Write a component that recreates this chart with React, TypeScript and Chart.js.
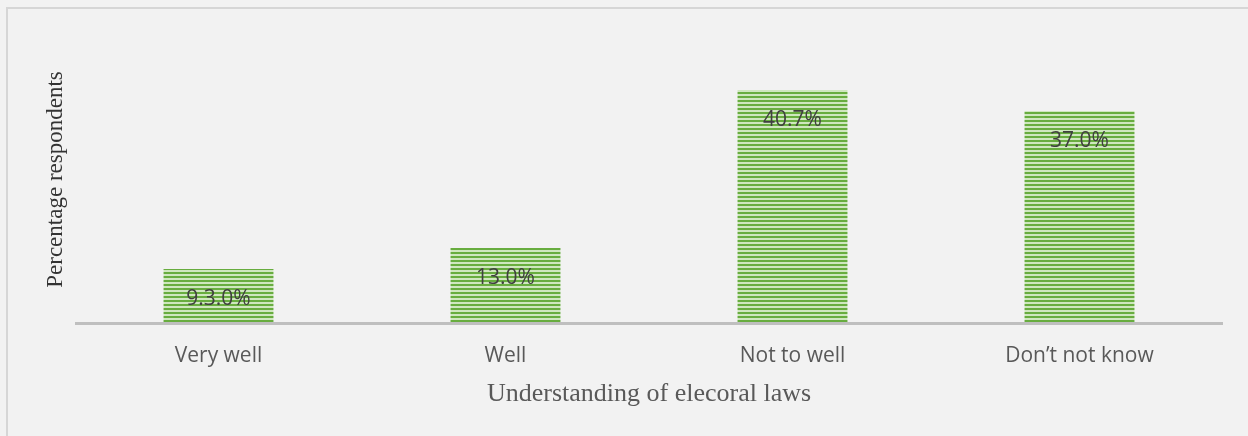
import React, { useEffect, useRef } from "react";
import { Chart, registerables } from "chart.js";

Chart.register(...registerables);

const categories = ["Very well", "Well", "Not to well", "Don\u2019t not know"];
const values = [9.3, 13.0, 40.7, 37.0];
const valueLabels = ["9.3.0%", "13.0%", "40.7%", "37.0%"];
const xTitle = "Understanding of elecoral laws";
const yTitle = "Percentage respondents";

function makePattern(): CanvasPattern | string {
  const c = document.createElement("canvas");
  c.width = 4;
  c.height = 4;
  const g = c.getContext("2d");
  if (!g) return "#70ad47";
  g.fillStyle = "#cfe7bf";
  g.fillRect(0, 0, 4, 4);
  g.fillStyle = "#68ad3f";
  g.fillRect(0, 0, 4, 2);
  const p = g.createPattern(c, "repeat");
  return p || "#70ad47";
}

const valueLabelPlugin = {
  id: "valueLabels",
  afterDatasetsDraw(chart: any) {
    const ctx = chart.ctx;
    const meta = chart.getDatasetMeta(0);
    const area = chart.chartArea;
    ctx.save();
    ctx.strokeStyle = "#bfbfbf";
    ctx.lineWidth = 3;
    ctx.beginPath();
    ctx.moveTo(area.left, area.bottom + 1.5);
    ctx.lineTo(area.right, area.bottom + 1.5);
    ctx.stroke();
    ctx.font = '21px "Open Sans"';
    ctx.fillStyle = "#404040";
    ctx.textAlign = "center";
    ctx.textBaseline = "middle";
    meta.data.forEach((bar: any, i: number) => {
      ctx.fillText(valueLabels[i], bar.x, bar.y + 30);
    });
    ctx.restore();
  },
};

export default function App() {
  const ref = useRef<HTMLCanvasElement>(null);
  useEffect(() => {
    if (!ref.current) return;
    const chart = new Chart(ref.current, {
      type: "bar",
      data: {
        labels: categories,
        datasets: [
          {
            data: values,
            backgroundColor: makePattern() as any,
            borderWidth: 0,
            categoryPercentage: 1,
            barPercentage: 0.383,
          },
        ],
      },
      options: {
        animation: false,
        responsive: false,
        maintainAspectRatio: false,
        layout: { padding: { left: 38, right: 25, top: 37, bottom: 22 } },
        plugins: { legend: { display: false }, tooltip: { enabled: false } },
        scales: {
          x: {
            grid: { display: false, drawTicks: false },
            border: { display: false },
            ticks: {
              color: "#595959",
              font: { family: "Open Sans", size: 21 },
              padding: 21,
              maxRotation: 0,
            },
            title: {
              display: true,
              text: xTitle,
              color: "#595959",
              font: { family: "Liberation Serif", size: 26 },
              padding: { top: 4, bottom: 4 },
            },
            afterFit(scale: any) {
              scale.height = 92;
            },
          },
          y: {
            min: 0,
            max: 50,
            grid: { display: false, drawTicks: false },
            border: { display: false },
            ticks: { display: false },
            title: {
              display: true,
              text: yTitle,
              color: "#333333",
              font: { family: "Liberation Serif", size: 23 },
              padding: { top: 4, bottom: 4 },
            },
            afterFit(scale: any) {
              scale.width = 37;
            },
          },
        },
      },
      plugins: [valueLabelPlugin],
    });
    return () => chart.destroy();
  }, []);
  return (
    <div
      style={{
        position: "fixed",
        left: 0,
        top: 0,
        width: 1248,
        height: 436,
        background: "#f2f2f2",
        overflow: "hidden",
      }}
    >
      <div
        style={{
          position: "absolute",
          left: 6,
          top: 7,
          width: 1260,
          height: 450,
          borderLeft: "2px solid #d6d6d6",
          borderTop: "2px solid #d6d6d6",
        }}
      />
      <canvas
        ref={ref}
        width={1248}
        height={436}
        style={{ position: "absolute", left: 0, top: 0, width: 1248, height: 436 }}
      />
    </div>
  );
}
